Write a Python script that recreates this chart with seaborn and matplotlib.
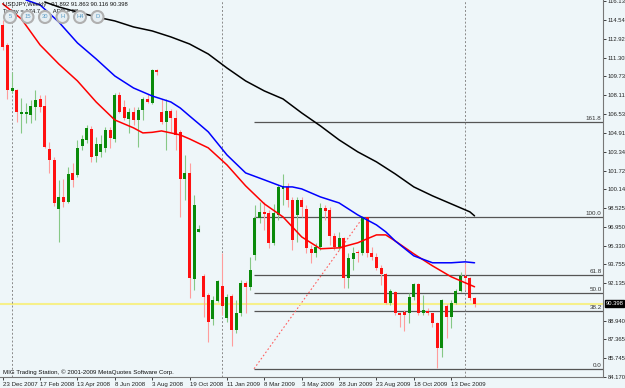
import matplotlib
matplotlib.use("Agg")
import matplotlib.pyplot as plt
import seaborn as sns
import pandas as pd
import numpy as np
from matplotlib.patches import Ellipse
from matplotlib.transforms import ScaledTranslation

# weekly USDJPY candles, Dec 2007 .. Jan 2010
opens = [114.10, 112.40, 108.49, 108.57, 106.53, 106.53, 106.45, 107.13, 107.81, 107.21,
         103.56, 102.63, 98.46, 99.48, 99.06, 101.52, 101.35, 103.82, 104.33, 105.26,
         102.97, 103.31, 103.65, 105.18, 104.41, 108.15, 107.13, 106.11, 106.70, 106.02,
         106.87, 107.81, 107.47, 110.27, 106.70, 105.85, 106.79, 106.19, 105.01, 101.01,
         101.52, 92.52, 96.51, 92.77, 91.16, 89.12, 90.65, 91.92, 89.20, 91.07,
         88.18, 89.63, 92.18, 91.84, 94.56, 97.70, 98.21, 98.12, 95.58, 97.95,
         100.16, 100.33, 99.23, 97.95, 99.23, 98.46, 95.07, 94.73, 95.24, 98.55,
         98.38, 96.17, 95.24, 96.00, 92.60, 94.22, 94.81, 94.73, 97.78, 94.73,
         94.39, 93.45, 92.94, 90.48, 91.41, 89.63, 89.71, 89.63, 90.99, 92.09,
         89.63, 89.80, 89.63, 88.78, 86.65, 90.22, 89.29, 90.48, 91.50, 92.77,
         92.60, 90.90]
highs = [114.52, 112.57, 110.10, 108.66, 107.89, 107.47, 107.72, 108.57, 108.15, 108.15,
         104.16, 102.88, 100.93, 101.01, 102.03, 102.37, 104.33, 104.75, 105.60, 105.52,
         104.58, 104.75, 105.43, 105.43, 108.32, 108.40, 107.72, 107.04, 107.13, 107.13,
         107.98, 108.23, 110.36, 110.36, 107.81, 107.81, 106.96, 106.87, 105.18, 103.05,
         102.37, 99.65, 97.10, 92.94, 91.33, 91.07, 92.43, 94.73, 91.24, 91.24,
         90.73, 92.43, 92.35, 94.39, 98.80, 99.06, 99.06, 98.38, 98.89, 100.50,
         101.44, 100.67, 99.48, 99.48, 99.48, 98.80, 95.41, 95.58, 98.97, 98.80,
         98.63, 96.42, 96.51, 96.08, 94.73, 95.24, 94.98, 97.87, 97.78, 95.24,
         94.73, 93.71, 93.03, 91.67, 91.50, 89.71, 89.88, 91.33, 92.18, 92.18,
         91.16, 90.05, 89.63, 88.86, 90.82, 90.39, 90.73, 91.67, 93.11, 93.88,
         92.68, 90.99]
lows = [111.97, 107.81, 108.32, 105.85, 104.92, 105.77, 105.77, 106.02, 106.70, 103.65,
        101.52, 98.72, 95.66, 98.63, 98.97, 100.33, 101.18, 103.48, 104.07, 102.46,
        102.46, 102.88, 103.31, 103.65, 104.16, 106.62, 106.02, 104.92, 105.60, 103.73,
        106.02, 107.47, 107.38, 109.85, 105.69, 103.48, 105.01, 103.48, 97.78, 99.23,
        90.90, 91.58, 96.51, 89.29, 87.16, 88.61, 90.56, 89.46, 88.86, 86.82,
        87.93, 89.37, 89.63, 91.58, 94.13, 97.27, 96.68, 95.15, 95.41, 97.53,
        98.80, 98.63, 94.98, 95.66, 97.78, 94.73, 93.88, 94.39, 94.98, 97.53,
        95.41, 94.98, 94.98, 91.75, 91.75, 93.28, 93.96, 94.56, 94.39, 94.13,
        93.28, 92.01, 90.39, 90.31, 89.46, 88.44, 88.10, 88.78, 90.73, 89.46,
        89.46, 89.46, 88.44, 84.95, 85.89, 87.50, 88.35, 90.39, 91.41, 91.58,
        90.73, 90.12]
closes = [112.23, 108.57, 108.74, 106.70, 106.70, 106.70, 107.21, 107.72, 107.13, 103.73,
          102.63, 98.97, 99.48, 99.06, 101.44, 100.93, 103.65, 104.41, 105.35, 102.88,
          103.99, 103.99, 105.18, 104.50, 108.15, 106.70, 106.19, 106.70, 106.02, 106.87,
          107.81, 107.55, 110.27, 110.10, 105.85, 106.79, 106.19, 104.75, 101.01, 101.52,
          92.60, 98.80, 96.76, 90.99, 88.86, 90.73, 92.35, 90.22, 90.99, 88.18,
          89.63, 92.18, 91.84, 93.28, 97.70, 98.21, 98.04, 95.58, 98.12, 100.33,
          100.42, 99.23, 95.83, 99.23, 98.63, 95.15, 94.73, 95.24, 98.55, 98.29,
          96.17, 95.24, 96.00, 92.60, 94.30, 94.73, 94.73, 97.78, 94.73, 94.39,
          93.45, 92.94, 90.48, 91.50, 89.63, 89.46, 89.46, 90.99, 92.09, 89.63,
          89.88, 89.63, 88.78, 86.65, 90.73, 89.29, 90.48, 91.50, 92.77, 92.60,
          90.90, 90.40]

# moving averages (bar index, price)
red_ma_bars = [0, 4, 8, 12, 16, 20, 24, 28, 30, 32, 34, 36, 38, 40, 44, 48, 52, 56, 60,
               64, 68, 72, 76, 80, 82, 84, 88, 92, 96, 100, 101]
red_ma_vals = [115.90, 114.61, 112.40, 110.78, 109.34, 107.55, 106.02, 105.35, 104.92,
               104.97, 105.09, 104.92, 104.75, 104.41, 103.65, 102.20, 100.42, 98.89,
               97.78, 96.08, 95.07, 95.15, 95.58, 96.25, 96.25, 95.74, 94.64, 93.62,
               92.69, 92.01, 91.84]
blue_ma_bars = [5, 8, 12, 16, 20, 24, 28, 32, 36, 38, 40, 42, 44, 48, 52, 56, 60, 62, 64,
                68, 72, 76, 80, 82, 84, 88, 92, 96, 99, 101]
blue_ma_vals = [116.22, 115.80, 114.35, 112.57, 111.21, 109.76, 108.74, 108.06, 107.55,
                107.04, 106.36, 105.69, 105.01, 103.05, 101.52, 100.93, 100.33, 100.33,
                100.16, 99.48, 98.97, 97.95, 97.10, 96.51, 95.74, 94.47, 93.88, 93.88,
                93.96, 93.88]
black_ma_bars = [9, 12, 16, 20, 24, 28, 32, 36, 40, 44, 48, 52, 56, 60, 64, 68, 72, 76,
                 80, 84, 88, 92, 96, 100, 101]
black_ma_vals = [116.05, 115.63, 115.20, 114.78, 114.44, 113.93, 113.59, 113.08, 112.48,
                 111.63, 110.44, 109.34, 108.49, 107.81, 106.62, 105.52, 104.33, 103.31,
                 102.46, 101.44, 100.33, 99.57, 98.89, 98.21, 97.87]

date_labels = ["23 Dec 2007", "17 Feb 2008", "13 Apr 2008", "8 Jun 2008", "3 Aug 2008",
               "19 Oct 2008", "11 Jan 2009", "8 Mar 2009", "3 May 2009", "28 Jun 2009",
               "23 Aug 2009", "18 Oct 2009", "13 Dec 2009"]
year_breaks = [2, 47, 99]

price_ticks = [116.135, 114.545, 112.925, 111.305, 109.730, 108.110, 106.535, 104.915,
               103.340, 101.720, 100.145, 98.525, 96.950, 95.330, 93.755, 92.135,
               88.940, 87.365, 85.745, 84.170]
last_price = 90.398

fib_names = ["0.0", "38.2", "50.0", "61.8", "100.0", "161.8"]
fib_prices = [84.87, 89.80, 91.33, 92.86, 97.78, 105.85]
fib_anchor_bars = [53.8, 77.2]
fib_anchor_prices = [84.87, 97.78]

buttons = ["5", "15", "30", "H", "H4", "D"]

BG = "#eef6f9"
sns.set_style("white")
plt.rcParams["font.family"] = ["Liberation Sans", "DejaVu Sans"]

fig = plt.figure(figsize=(6.25, 3.88), dpi=100, facecolor=BG)
ax = fig.add_axes([0, 11 / 388, 603 / 625, 377 / 388])
ax.set_facecolor(BG)

n = len(opens)
xs = np.arange(n)
o = np.array(opens); c = np.array(closes)
up = c >= o
body_col = np.where(up, "#0a8a0a", "#ff1010")
wick_col = np.where(up, "#86c886", "#ff9c9c")

# fibonacci object
ax.hlines(fib_prices, fib_anchor_bars[0], 200, color="#555555", lw=0.9, zorder=1)
ax.plot(fib_anchor_bars, fib_anchor_prices, color="#ff6060", lw=0.8, ls=(0, (1.5, 2)), zorder=1)
for name, p in zip(fib_names, fib_prices):
    ax.annotate(name, (1, p), xycoords=("axes fraction", "data"), xytext=(-1, 0.8),
                textcoords="offset points", ha="right", va="bottom", fontsize=4.5, color="#333333")

# current price line
ax.axhline(last_price, color="#f6f08a", lw=1.5, zorder=1)

# year separators
for b in year_breaks:
    ax.axvline(b, color="#8a8a8a", lw=0.7, ls=(0, (2, 2)), zorder=1)

# candles
ax.vlines(xs, lows, highs, colors=wick_col, lw=0.8, zorder=2)
heights = np.maximum(np.abs(c - o), 0.06)
ax.bar(xs, heights, bottom=np.minimum(o, c), width=0.64, color=body_col, lw=0, zorder=3)

# moving averages
ma = pd.concat([
    pd.DataFrame({"bar": red_ma_bars, "price": red_ma_vals, "ma": "fast"}),
    pd.DataFrame({"bar": blue_ma_bars, "price": blue_ma_vals, "ma": "mid"}),
    pd.DataFrame({"bar": black_ma_bars, "price": black_ma_vals, "ma": "slow"}),
])
sns.lineplot(data=ma, x="bar", y="price", hue="ma", sort=False, estimator=None,
             palette={"fast": "#ff0000", "mid": "#0000ff", "slow": "#000000"},
             lw=1.1, legend=False, ax=ax, zorder=4)

ax.set_xlim(-0.58, 128.5)
ax.set_ylim(84.17, 116.22)

ax.yaxis.tick_right()
ax.set_yticks(price_ticks)
ax.set_yticklabels([f"{v:.3f}" for v in price_ticks])
ax.set_xticks(np.arange(len(date_labels)) * 8)
ax.set_xticklabels(date_labels, ha="left")
for lab in ax.get_xticklabels():
    lab.set_transform(lab.get_transform() + ScaledTranslation(1.2 / 72, 0, fig.dpi_scale_trans))
ax.tick_params(axis="y", which="both", right=True, length=2.2, width=0.6, pad=1.0,
               labelsize=4.2, colors="#222222")
ax.tick_params(axis="x", bottom=True, length=2.5, width=0.6, pad=0.8, labelsize=4.4,
               colors="#222222")
ax.set_xlabel("")
ax.set_ylabel("")
for s in ["top", "left"]:
    ax.spines[s].set_visible(False)
for s in ["right", "bottom"]:
    ax.spines[s].set_color("#777777")
    ax.spines[s].set_linewidth(0.8)

ax.annotate(f"{last_price:.3f}", (1, last_price), xycoords=("axes fraction", "data"),
            xytext=(1.8, 0), textcoords="offset points", ha="left", va="center",
            fontsize=4.2, color="white",
            bbox=dict(boxstyle="square,pad=0.15", fc="black", ec="black"))

# header and buttons
fig.text(3 / 625, 1 - 4.5 / 388, "USDJPY,Weekly   91.892 91.863 90.116 90.398",
         fontsize=4.2, va="center", ha="left", color="#111111")
fig.text(3 / 625, 1 - 11 / 388, "Today = 174.7        ADR = 98",
         fontsize=4.2, va="center", ha="left", color="#111111")
for k, name in enumerate(buttons):
    cx, cy = 10 + 17.5 * k, 17
    fig.add_artist(Ellipse((cx / 625, 1 - cy / 388), 12 / 625, 12 / 388,
                           transform=fig.transFigure, fc="#e6eef2", ec="#b0b0b0",
                           lw=1.5, zorder=10))
    fig.text(cx / 625, 1 - cy / 388, name, fontsize=4.2, color="#5b9cc6",
             ha="center", va="center", zorder=11)

fig.text(3 / 625, 1 - 372 / 388, "MIG Trading Station, \u00a9 2001-2009 MetaQuotes Software Corp.",
         fontsize=4.4, va="center", ha="left", color="#111111")

fig.savefig("out.png", dpi=100, facecolor=BG)
